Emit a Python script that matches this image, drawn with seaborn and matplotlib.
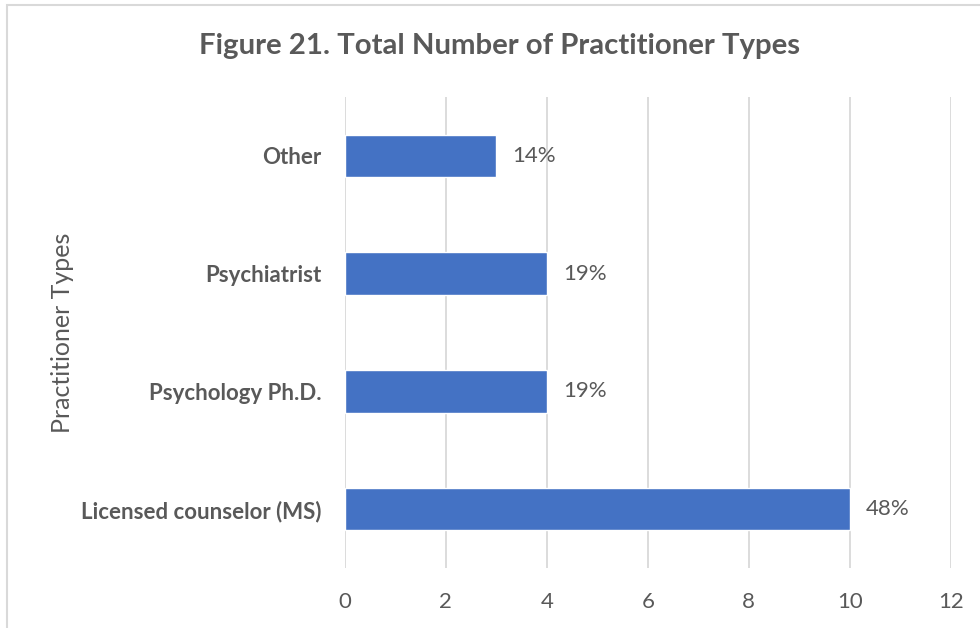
import pandas as pd
import matplotlib
matplotlib.use("Agg")
import matplotlib.pyplot as plt
import seaborn as sns

# data, top to bottom as drawn
types = ["Other", "Psychiatrist", "Psychology Ph.D.", "Licensed counselor (MS)"]
counts = [3, 4, 4, 10]
shares = ["14%", "19%", "19%", "48%"]

BAR = "#4472C4"
TEXT = "#595959"
GRID = "#D9D9D9"

sns.set_style("white")
plt.rcParams["font.family"] = ["Lato", "DejaVu Sans"]

df = pd.DataFrame({"Type": types, "Count": counts})

fig = plt.figure(figsize=(9.8, 6.28), dpi=100)
ax = fig.add_axes([0.352, 0.0955, 0.618, 0.75])

sns.barplot(data=df, y="Type", x="Count", order=types, color=BAR,
            width=0.36, saturation=1, ax=ax)

ax.set_xlim(0, 12)
ax.set_ylim(3.5, -0.5)
ax.set_xticks(range(0, 13, 2))
ax.grid(axis="x", color=GRID, linewidth=1.3)
ax.set_axisbelow(True)
for s in ax.spines.values():
    s.set_visible(False)
ax.tick_params(axis="both", length=0)
ax.tick_params(axis="x", labelsize=16, labelcolor=TEXT, pad=17)
ax.tick_params(axis="y", labelsize=16, labelcolor=TEXT, pad=17)
for lab in ax.get_yticklabels():
    lab.set_fontweight("bold")

ax.set_xlabel("")
ax.set_ylabel("Practitioner Types", fontsize=18, color=TEXT, labelpad=0)
ax.yaxis.set_label_coords(-0.448, 0.5)

for i, (v, s) in enumerate(zip(counts, shares)):
    ax.annotate(s, (v, i), xytext=(11.5, 0), textcoords="offset points",
                ha="left", va="center", fontsize=16, color=TEXT)

fig.text(0.51, 0.926, "Figure 21. Total Number of Practitioner Types",
         ha="center", va="center", fontsize=21.2, fontweight="bold", color=TEXT)

# chart frame (right and bottom edges fall outside the picture)
frame = plt.Rectangle((7 / 980, -0.1), 1.2, 1 - 5 / 628 + 0.1,
                      transform=fig.transFigure, fill=False,
                      edgecolor=GRID, linewidth=1.5)
fig.patches.append(frame)

fig.savefig("out.png", dpi=100)
